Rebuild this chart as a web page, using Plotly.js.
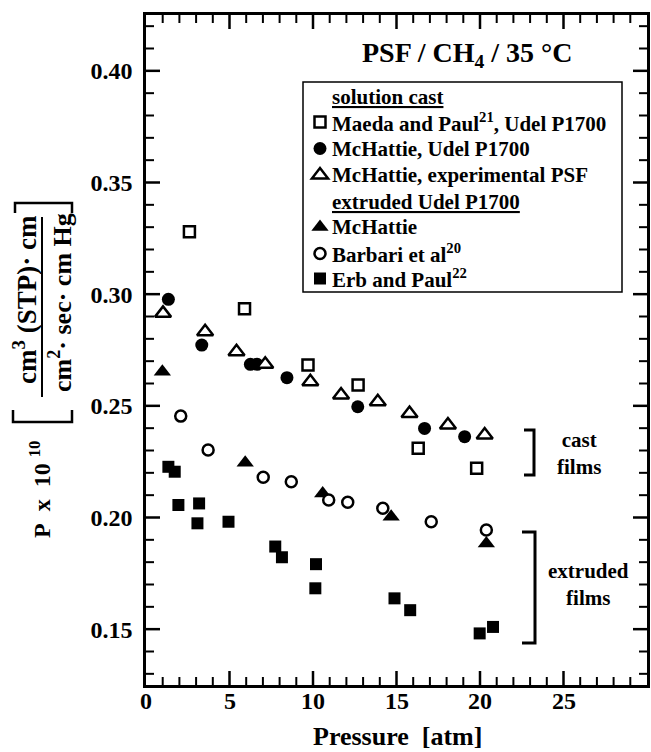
<!DOCTYPE html>
<html>
<head>
<meta charset="utf-8">
<script src="https://cdn.plot.ly/plotly-3.0.1.min.js"></script>
<style>html,body{margin:0;padding:0;background:#fff;}#chart{width:651px;height:752px;}</style>
</head>
<body>
<div id="chart"></div>
<script>
// ---- data (pressure [atm], permeability P x 1e10) ----
const maedaP    = [2.6, 5.9, 9.7, 12.7, 16.3, 19.8];
const maedaPerm = [0.328, 0.2935, 0.2683, 0.2593, 0.231, 0.222];

const mcUdelP    = [1.34, 3.34, 6.25, 6.65, 8.44, 12.68, 16.68, 19.08];
const mcUdelPerm = [0.2977, 0.2772, 0.2686, 0.2686, 0.2626, 0.2496, 0.2399, 0.2362];

const mcExpP    = [1.02, 3.54, 5.42, 7.14, 9.84, 11.68, 13.88, 15.78, 18.08, 20.28];
const mcExpPerm = [0.2914, 0.2832, 0.2742, 0.2686, 0.2608, 0.2548, 0.2518, 0.2466, 0.2414, 0.2369];

const mcExtP    = [0.98, 5.94, 10.58, 14.68, 20.38];
const mcExtPerm = [0.2653, 0.2245, 0.2108, 0.2003, 0.1884];

const barbariP    = [2.08, 3.72, 7.02, 8.7, 10.94, 12.08, 14.18, 17.08, 20.38];
const barbariPerm = [0.2454, 0.2302, 0.218, 0.216, 0.2078, 0.2068, 0.2041, 0.1981, 0.1944];

const erbP    = [1.34, 1.72, 1.94, 3.18, 3.08, 4.94, 7.74, 8.14, 10.18, 10.14, 14.88, 15.82, 19.98, 20.78];
const erbPerm = [0.2227, 0.2205, 0.2056, 0.2063, 0.1974, 0.1981, 0.187, 0.1822, 0.1791, 0.1683, 0.1638, 0.1585, 0.1481, 0.151];

const seriesNames = ['Maeda and Paul<sup>21</sup>, Udel P1700', 'McHattie, Udel P1700', 'McHattie, experimental PSF',
                     'McHattie', 'Barbari et al<sup>20</sup>', 'Erb and Paul<sup>22</sup>'];
const groupTitles = ['<u>solution cast</u>', '<u>extruded Udel P1700</u>'];
const xTickVals = [0, 5, 10, 15, 20, 25];
const xTickText = ['0', '5', '10', '15', '20', '25'];
const yTickVals = [0.15, 0.20, 0.25, 0.30, 0.35, 0.40];

// ---- layout helpers (pixel -> paper) ----
const FIG_W = 651, FIG_H = 752;
const L = 146, R = 647, T = 15, B = 685;
const PW = R - L, PH = B - T;
const px = x => (x - L) / PW;
const py = y => (B - y) / PH;
const SERIF = 'Liberation Serif, Times New Roman, serif';
const bold = (size) => ({family: SERIF, size: size, color: '#000', weight: 'bold'});
const NB = '\u00A0';
const xRange = [0, 30], yRange = [0.125, 0.425];
const xFrac = v => (v - xRange[0]) / (xRange[1] - xRange[0]);
const yFrac = v => (v - yRange[0]) / (yRange[1] - yRange[0]);

const openLine = {color: '#000', width: 2.5};
const styles = [
  {kind: 'square',   size: 11, fill: '#fff'},
  {kind: 'circle',   size: 13, fill: '#000'},
  {kind: 'triangle', size: 14, fill: '#fff'},
  {kind: 'triangle', size: 15, fill: '#000'},
  {kind: 'circle',   size: 11, fill: '#fff'},
  {kind: 'square',   size: 12, fill: '#000'}
];
const symName = {square: 'square', circle: 'circle', triangle: 'triangle-up'};
const dataX = [maedaP, mcUdelP, mcExpP, mcExtP, barbariP, erbP];
const dataY = [maedaPerm, mcUdelPerm, mcExpPerm, mcExtPerm, barbariPerm, erbPerm];

const traces = dataX.map((xs, i) => {
  const st = styles[i];
  const open = st.fill === '#fff';
  return {
    x: xs, y: dataY[i], type: 'scatter', mode: 'markers', name: seriesNames[i],
    showlegend: false, cliponaxis: false,
    marker: {symbol: symName[st.kind], size: st.size, color: st.fill,
             line: open ? openLine : {width: 0}}
  };
});

const shapes = [];
function seg(pts, w) {
  const d = 'M ' + pts.map(p => px(p[0]) + ',' + py(p[1])).join(' L ');
  shapes.push({type: 'path', xref: 'paper', yref: 'paper', path: d, line: {color: '#000', width: w || 2.5}});
}

// ---- inward tick marks on all four sides, positioned from the axis ranges ----
const MAJ = 14, MIN = 8;
for (let v = 1; v < 30; v++) {
  const major = v % 5 === 0;
  const len = (major ? MAJ : MIN) / PH;
  const f = xFrac(v);
  const w = major ? 2.5 : 2;
  shapes.push({type: 'path', xref: 'paper', yref: 'paper', path: 'M ' + f + ',0 L ' + f + ',' + len, line: {color: '#000', width: w}});
  shapes.push({type: 'path', xref: 'paper', yref: 'paper', path: 'M ' + f + ',1 L ' + f + ',' + (1 - len), line: {color: '#000', width: w}});
}
for (let k = 13; k <= 42; k++) {
  const major = k % 5 === 0;
  const len = (major ? MAJ : MIN) / PW;
  const f = yFrac(k / 100);
  const w = major ? 2.5 : 2;
  shapes.push({type: 'path', xref: 'paper', yref: 'paper', path: 'M 0,' + f + ' L ' + len + ',' + f, line: {color: '#000', width: w}});
  shapes.push({type: 'path', xref: 'paper', yref: 'paper', path: 'M 1,' + f + ' L ' + (1 - len) + ',' + f, line: {color: '#000', width: w}});
}

// y-title brackets and fraction bar
seg([[13, 410], [13, 422], [72, 422], [72, 410]]);
seg([[15, 213], [15, 203], [72, 203], [72, 213]]);
seg([[42, 217], [42, 397]], 2);
// cast / extruded brackets
seg([[524, 430], [534, 430], [534, 475], [524, 475]], 3);
seg([[522, 532], [535, 532], [535, 643], [522, 643]], 3);

// ---- hand-built legend ----
const LEG = {x0: 303, y0: 82, x1: 622, y1: 292, symX: 320, textX: 330};
shapes.push({type: 'rect', xref: 'paper', yref: 'paper', x0: px(LEG.x0), x1: px(LEG.x1), y0: py(LEG.y0), y1: py(LEG.y1),
             line: {color: '#000', width: 1.5}, fillcolor: '#fff', layer: 'below'});
const legendRows = [
  {text: groupTitles[0], y: 97},
  {text: seriesNames[0], y: 122, s: 0},
  {text: seriesNames[1], y: 148.5, s: 1},
  {text: seriesNames[2], y: 175, s: 2},
  {text: groupTitles[1], y: 201.5},
  {text: seriesNames[3], y: 227, s: 3},
  {text: seriesNames[4], y: 253.5, s: 4},
  {text: seriesNames[5], y: 278.5, s: 5}
];
function legendSymbol(st, cx, cy) {
  const open = st.fill === '#fff';
  const line = open ? {color: '#000', width: 2.5} : {width: 0};
  const r = st.size / 2;
  if (st.kind === 'square') {
    shapes.push({type: 'rect', xref: 'paper', yref: 'paper', x0: px(cx - r), x1: px(cx + r), y0: py(cy + r), y1: py(cy - r),
                 fillcolor: st.fill, line: line});
  } else if (st.kind === 'circle') {
    shapes.push({type: 'circle', xref: 'paper', yref: 'paper', x0: px(cx - r), x1: px(cx + r), y0: py(cy + r), y1: py(cy - r),
                 fillcolor: st.fill, line: line});
  } else {
    const rt = r * 2 / Math.sqrt(3);
    const pts = [[cx - rt, cy + r / 2], [cx + rt, cy + r / 2], [cx, cy - r]];
    shapes.push({type: 'path', xref: 'paper', yref: 'paper',
                 path: 'M ' + pts.map(p => px(p[0]) + ',' + py(p[1])).join(' L ') + ' Z',
                 fillcolor: st.fill, line: line});
  }
}

const annotations = [
  {text: 'PSF / CH<sub>4</sub> / 35 °C', x: px(467), y: py(55), font: bold(28)},
  {text: 'cast<br>films', x: px(579), y: py(453), font: bold(21)},
  {text: 'extruded<br>films', x: px(588), y: py(584), font: bold(21)},
  {text: 'P' + NB + NB + 'x' + NB + NB + '10' + NB + '<sup>10</sup>', x: px(40), y: py(490), textangle: -90, font: bold(24)},
  {text: 'cm<sup>3</sup>' + NB + '(STP)·' + NB + 'cm', x: px(25), y: py(300), textangle: -90, font: bold(27)},
  {text: 'cm<sup>2</sup>·' + NB + 'sec·' + NB + 'cm' + NB + 'Hg', x: px(60), y: py(303), textangle: -90, font: bold(26)},
  {text: 'Pressure' + NB + NB + '[atm]', x: px(397), y: py(736), font: bold(26)}
];
legendRows.forEach(row => {
  annotations.push({text: row.text, x: px(LEG.textX), y: py(row.y), xanchor: 'left', font: bold(21)});
  if (row.s !== undefined) legendSymbol(styles[row.s], LEG.symX, row.y);
});
annotations.forEach(a => { a.xref = 'paper'; a.yref = 'paper'; });
// x tick labels, placed at the tick values through the x scale
xTickVals.forEach((v, i) => {
  annotations.push({text: xTickText[i], x: v, xref: 'x', y: py(701), yref: 'paper', font: bold(24)});
});
annotations.forEach(a => {
  a.showarrow = false;
  if (!a.xanchor) a.xanchor = 'center';
  a.yanchor = 'middle';
});

const axisCommon = {
  showline: true, linewidth: 2.5, linecolor: '#000', mirror: true, ticks: '',
  showgrid: false, zeroline: false, tickfont: bold(24)
};
const layout = {
  width: FIG_W, height: FIG_H,
  margin: {l: L, r: FIG_W - R, t: T, b: FIG_H - B},
  paper_bgcolor: '#fff', plot_bgcolor: '#fff',
  font: bold(21),
  showlegend: false,
  xaxis: Object.assign({}, axisCommon, {range: xRange, showticklabels: false}),
  yaxis: Object.assign({}, axisCommon, {
    range: yRange, tickmode: 'array', tickvals: yTickVals, tickformat: '.2f', ticklabelstandoff: 6
  }),
  shapes: shapes,
  annotations: annotations
};

Plotly.newPlot('chart', traces, layout, {displayModeBar: false});
</script>
</body>
</html>
